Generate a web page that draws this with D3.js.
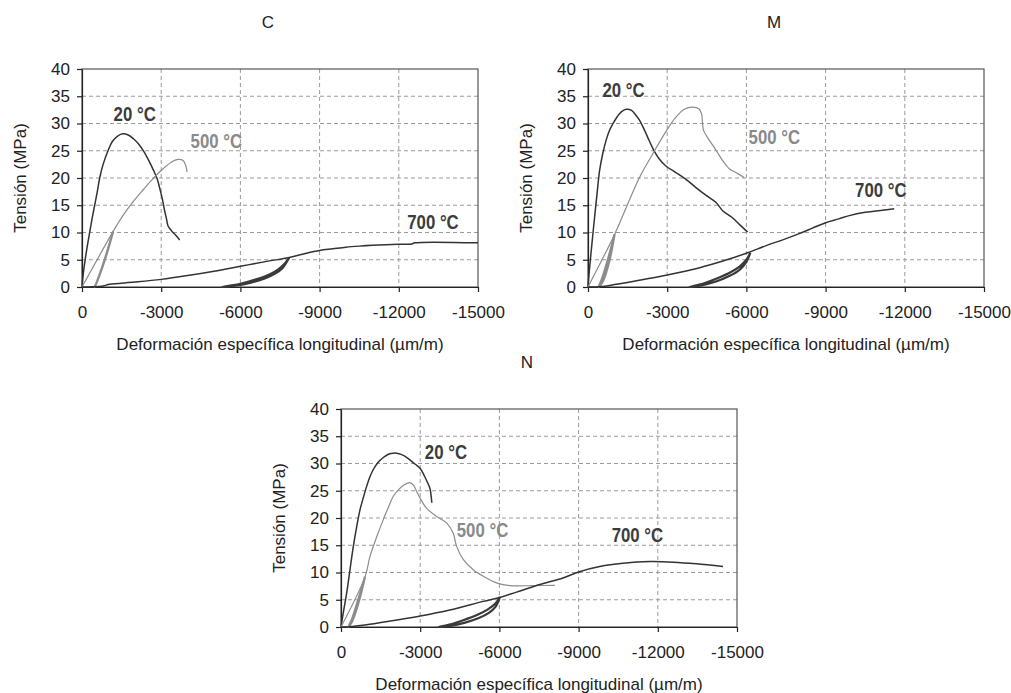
<!DOCTYPE html>
<html>
<head>
<meta charset="utf-8">
<script src="https://cdn.jsdelivr.net/npm/d3@7/dist/d3.min.js"></script>
<style>
  body { margin: 0; background: #fff; }
  svg text { font-family: "Liberation Sans", Arial, sans-serif; }
</style>
</head>
<body>
<svg width="1011" height="693"></svg>
<script>
// strain (µm/m) vs stress (MPa)
const xTicks = [0, -3000, -6000, -9000, -12000, -15000];
const yTicks = [0, 5, 10, 15, 20, 25, 30, 35, 40];
const seriesNames = ["20 °C", "500 °C", "700 °C"];

const c20 = [[0,0],[-50,2.5],[-120,5],[-200,7.5],[-290,10],[-380,12.5],[-480,15],[-580,17.5],[-670,20],[-800,22.5],[-985,25],[-1150,26.7],[-1350,27.7],[-1550,28.1],[-1750,27.9],[-1950,27.2],[-2150,26.2],[-2350,24.8],[-2550,23],[-2700,21.5],[-2850,19.8],[-2950,18],[-3050,16],[-3130,14],[-3200,12.5],[-3260,11.2],[-3390,10.3],[-3570,9.4],[-3700,8.6]];
const c500 = [[0,0],[-1180,10.2],[-1550,13.1],[-1930,15.6],[-2310,17.8],[-2690,19.9],[-3070,21.7],[-3380,22.9],[-3640,23.4],[-3830,23.2],[-3930,22.3],[-3980,21.1]];
const c500Loop = [[-1180,10.2],[-880,5.2],[-620,1.6],[-480,0],[-560,0.9],[-830,4.6],[-1180,10.2]];
const c700 = [[0,0],[-400,0.05],[-800,0.2],[-1050,0.5],[-2000,0.9],[-3000,1.4],[-4000,2.1],[-5000,2.9],[-6000,3.8],[-7000,4.7],[-7850,5.4],[-8500,6.2],[-9000,6.7],[-9500,7.0],[-10000,7.3],[-10500,7.5],[-11000,7.65],[-12000,7.85],[-12500,7.9],[-12600,8.1],[-15000,8.1]];
const c700Loop = [[-7850,5.4],[-7700,4.4],[-7450,3.3],[-7100,2.3],[-6600,1.4],[-6000,0.6],[-5300,0],[-5800,0.25],[-6400,0.8],[-6900,1.5],[-7300,2.4],[-7600,3.5],[-7850,5.4]];

const m20 = [[0,0],[-60,3.5],[-150,8],[-250,12.8],[-340,17],[-440,21.4],[-560,24.5],[-690,27],[-820,28.8],[-950,30],[-1100,31.2],[-1250,32.1],[-1450,32.6],[-1650,32.4],[-1800,31.6],[-1950,30.6],[-2100,29.2],[-2250,27.6],[-2450,25.5],[-2700,23.5],[-2950,22.2],[-3300,21.1],[-3700,19.8],[-4100,18.2],[-4450,16.9],[-4850,15.5],[-5100,14.0],[-5450,12.8],[-5750,11.4],[-6050,10.1]];
const m500 = [[0,0],[-1010,9.7],[-1450,14.6],[-1950,20.1],[-2450,24.4],[-2950,28.5],[-3300,31],[-3650,32.6],[-3950,33.0],[-4200,32.7],[-4300,31.8],[-4340,30],[-4380,28.7],[-4600,26.9],[-4850,25.1],[-5100,23.2],[-5350,21.7],[-5600,21.0],[-5920,20.1]];
const m500Loop = [[-1010,9.7],[-750,5],[-520,1.4],[-400,0],[-560,1],[-800,4.6],[-1010,9.7]];
const m700 = [[0,0],[-450,0.05],[-1070,0.5],[-2000,1.3],[-3000,2.2],[-4200,3.5],[-5200,4.9],[-6000,6.2],[-6750,7.6],[-7400,8.7],[-8000,9.8],[-8500,10.8],[-9000,11.8],[-9500,12.5],[-9900,13.1],[-10500,13.7],[-11150,14.1],[-11600,14.35]];
const m700Loop = [[-6150,6.3],[-6000,5.0],[-5750,3.8],[-5400,2.7],[-4900,1.6],[-4400,0.7],[-3830,0],[-4300,0.3],[-4850,1.0],[-5350,2.0],[-5750,3.2],[-6000,4.6],[-6150,6.3]];

const n20 = [[0,0],[-100,3],[-214,6.2],[-340,10.5],[-467,14.8],[-590,18.3],[-719,21.5],[-850,23.8],[-971,25.8],[-1100,27.6],[-1224,28.9],[-1400,30.2],[-1602,31.1],[-1800,31.7],[-1981,31.9],[-2200,31.8],[-2400,31.4],[-2600,30.7],[-2800,29.9],[-3000,29.1],[-3150,27.8],[-3250,26.8],[-3370,25.4],[-3420,23.8],[-3440,22.8]];
const n500 = [[0,0],[-910,9.2],[-1100,13.0],[-1350,16.5],[-1600,19.7],[-1800,22],[-1980,24],[-2200,25.3],[-2400,26.1],[-2600,26.5],[-2750,26],[-2850,25],[-2990,23.7],[-3240,21.8],[-3620,20.3],[-4000,19.1],[-4250,17.2],[-4380,14.8],[-4630,12.4],[-5010,10.5],[-5390,9.3],[-5890,8.1],[-6400,7.6],[-7280,7.6],[-8100,7.65]];
const n500Loop = [[-910,9.2],[-650,5],[-420,1.5],[-280,0],[-420,1.0],[-660,4.4],[-910,9.2]];
const n700 = [[0,0],[-230,0],[-500,0.15],[-970,0.4],[-2000,1.2],[-3000,2.0],[-4120,3.1],[-5390,4.7],[-6000,5.4],[-6650,6.4],[-7530,7.8],[-8410,9.0],[-9000,10.1],[-9800,11.1],[-10680,11.7],[-11700,12.0],[-12580,11.9],[-13460,11.6],[-14470,11.1]];
const n700Loop = [[-6020,5.5],[-5850,4.3],[-5550,3.2],[-5150,2.2],[-4600,1.2],[-4150,0.5],[-3690,0],[-4200,0.25],[-4700,0.8],[-5200,1.6],[-5600,2.6],[-5850,3.7],[-6020,5.5]];

// label anchor points [strain, stress] for 20, 500, 700 °C
const cLabels = [[-1995,31.8],[-5090,26.9],[-13295,12.0]];
const mLabels = [[-1349,36.2],[-7059,27.6],[-11093,17.9]];
const nLabels = [[-3974,32.2],[-5361,17.9],[-11227,16.9]];

const panels = [
  {title: "C", left: 82, top: 69, curves: [c20, c500, c700], loops: [c500Loop, c700Loop], labels: cLabels},
  {title: "M", left: 588, top: 69, curves: [m20, m500, m700], loops: [m500Loop, m700Loop], labels: mLabels},
  {title: "N", left: 341, top: 409, curves: [n20, n500, n700], loops: [n500Loop, n700Loop], labels: nLabels}
];

const W = 396, H = 218;
const dark = "#333", gray = "#8c8c8c";
const lineColors = [dark, gray, dark];
const labelColors = ["#3c3c3c", "#8a8a8a", "#3c3c3c"];
const loopColors = [gray, "#3a3a3a"];

const svg = d3.select("svg");

panels.forEach(drawPanel);

function drawPanel(p) {
  const g = svg.append("g").attr("transform", `translate(${p.left},${p.top})`);
  const x = d3.scaleLinear().domain([0, -15000]).range([0, W]);
  const y = d3.scaleLinear().domain([0, 40]).range([H, 0]);

  // grid
  g.append("g").selectAll("line")
    .data(yTicks.slice(1, -1))
    .join("line")
    .attr("x1", 0).attr("x2", W)
    .attr("y1", d => y(d)).attr("y2", d => y(d))
    .attr("stroke", "#9a9a9a").attr("stroke-dasharray", "4,3");
  g.append("g").selectAll("line")
    .data(xTicks.slice(1, -1))
    .join("line")
    .attr("y1", 0).attr("y2", H)
    .attr("x1", d => x(d)).attr("x2", d => x(d))
    .attr("stroke", "#9a9a9a").attr("stroke-dasharray", "4,3");

  g.append("rect")
    .attr("width", W).attr("height", H)
    .attr("fill", "none").attr("stroke", "#555").attr("stroke-width", 1.2);

  const xAxis = g.append("g").attr("transform", `translate(0,${H})`)
    .call(d3.axisBottom(x).tickValues(xTicks).tickFormat(d => String(d)).tickSize(5).tickSizeOuter(0).tickPadding(14));
  const yAxis = g.append("g")
    .call(d3.axisLeft(y).tickValues(yTicks).tickFormat(d => String(d)).tickSize(5).tickSizeOuter(0).tickPadding(7));
  [xAxis, yAxis].forEach(a => {
    a.selectAll("text").attr("font-size", 17).attr("fill", "#222")
      .attr("font-family", "'Liberation Sans', Arial, sans-serif");
    a.selectAll("line, path").attr("stroke", "#222").attr("stroke-width", 1.2);
  });

  const line = d3.line().x(d => x(d[0])).y(d => y(d[1])).curve(d3.curveMonotoneX);
  const loopLine = d3.line().x(d => x(d[0])).y(d => y(d[1])).curve(d3.curveCatmullRom);

  p.loops.forEach((lp, i) => {
    g.append("path").datum(lp)
      .attr("d", loopLine)
      .attr("fill", "none")
      .attr("stroke", loopColors[i])
      .attr("stroke-width", 2.2);
  });

  p.curves.forEach((c, i) => {
    g.append("path").datum(c)
      .attr("d", d3.line().x(d => x(d[0])).y(d => y(d[1])).curve(d3.curveCatmullRom))
      .attr("fill", "none")
      .attr("stroke", lineColors[i])
      .attr("stroke-width", i === 1 ? 1.2 : 1.5);
  });

  p.labels.forEach((l, i) => {
    g.append("text")
      .attr("transform", `translate(${x(l[0])},${y(l[1])}) scale(0.84,1)`)
      .attr("text-anchor", "middle")
      .attr("dy", "0.36em")
      .attr("font-size", 20)
      .attr("font-weight", "bold")
      .attr("fill", labelColors[i])
      .text(seriesNames[i]);
  });

  // titles
  g.append("text")
    .attr("x", W / 2 - 12).attr("y", -47)
    .attr("dy", "0.36em")
    .attr("text-anchor", "middle")
    .attr("font-size", 17).attr("fill", "#222")
    .text(p.title);
  g.append("text")
    .attr("x", W / 2).attr("y", H + 57)
    .attr("dy", "0.36em")
    .attr("text-anchor", "middle")
    .attr("font-size", 17).attr("fill", "#222")
    .text("Deformación específica longitudinal (µm/m)");
  g.append("text")
    .attr("transform", `translate(-62,${H / 2}) rotate(-90)`)
    .attr("dy", "0.36em")
    .attr("text-anchor", "middle")
    .attr("font-size", 17).attr("fill", "#222")
    .text("Tensión (MPa)");
}
</script>
</body>
</html>
